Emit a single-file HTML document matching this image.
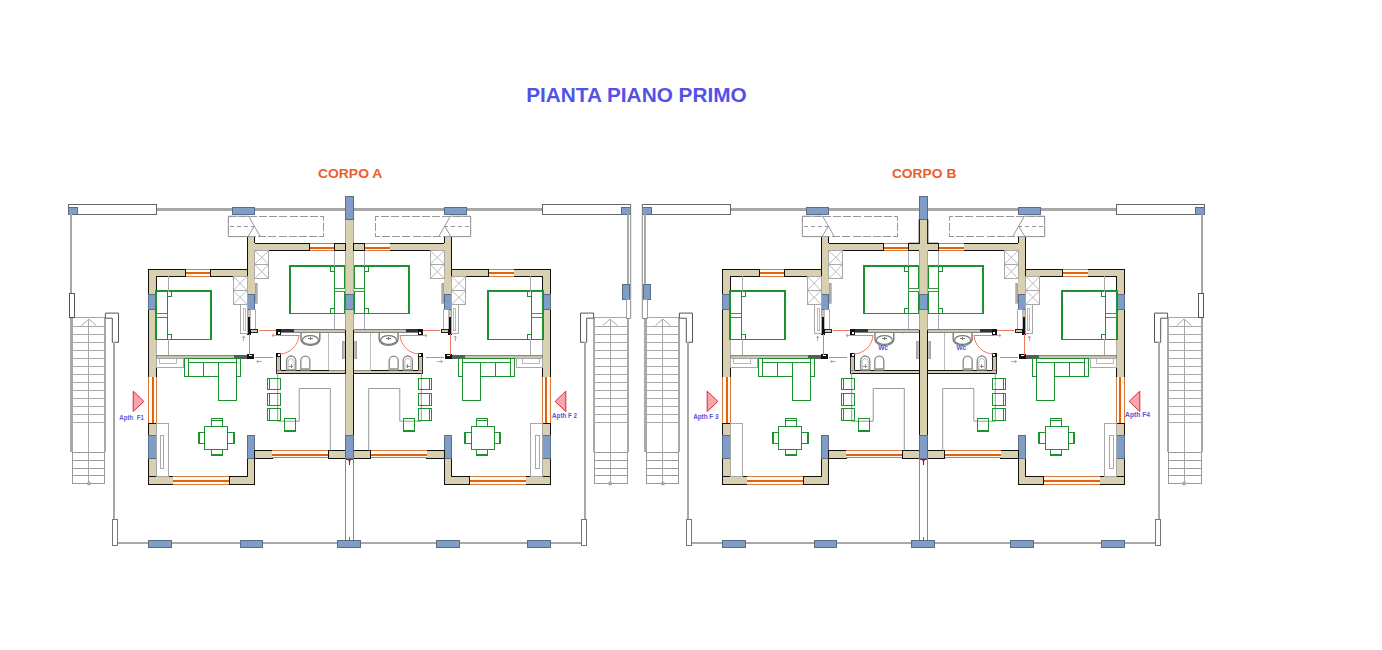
<!DOCTYPE html><html><head><meta charset="utf-8"><style>html,body{margin:0;padding:0;background:#fff;overflow:hidden}svg{display:block}</style></head><body><svg width="1382" height="650" viewBox="0 0 1382 650">
<rect width="1382" height="650" fill="#fff"/>
<defs><g id="hf"><line x1="156.6" y1="209.5" x2="345.5" y2="209.5" stroke="#a8a8a8" stroke-width="2.2"  shape-rendering="crispEdges"/>
<rect x="68.9" y="204.7" width="87.7" height="9.7" fill="#fff" stroke="#666" stroke-width="1"  shape-rendering="crispEdges"/>
<rect x="68.9" y="207.3" width="8.9" height="7.1" fill="#7f9dc6" stroke="#5b6c86" stroke-width="1"  shape-rendering="crispEdges"/>
<rect x="232.2" y="207.0" width="22.6" height="7.7" fill="#7f9dc6" stroke="#5b6c86" stroke-width="1"  shape-rendering="crispEdges"/>
<line x1="71.3" y1="317.7" x2="71.3" y2="452.0" stroke="#a8a8a8" stroke-width="2.4"  shape-rendering="crispEdges"/>
<line x1="104.8" y1="317.7" x2="104.8" y2="452.0" stroke="#a8a8a8" stroke-width="2.4"  shape-rendering="crispEdges"/>
<rect x="72.0" y="452.0" width="32.3" height="31.6" fill="none" stroke="#999" stroke-width="1"  shape-rendering="crispEdges"/>
<line x1="71.3" y1="317.7" x2="104.8" y2="317.7" stroke="#a8a8a8" stroke-width="1"  shape-rendering="crispEdges"/>
<line x1="71.3" y1="326.2" x2="104.8" y2="326.2" stroke="#a8a8a8" stroke-width="1"  shape-rendering="crispEdges"/>
<line x1="71.3" y1="334.2" x2="104.8" y2="334.2" stroke="#a8a8a8" stroke-width="1"  shape-rendering="crispEdges"/>
<line x1="71.3" y1="342.2" x2="104.8" y2="342.2" stroke="#a8a8a8" stroke-width="1"  shape-rendering="crispEdges"/>
<line x1="71.3" y1="350.3" x2="104.8" y2="350.3" stroke="#a8a8a8" stroke-width="1"  shape-rendering="crispEdges"/>
<line x1="71.3" y1="358.3" x2="104.8" y2="358.3" stroke="#a8a8a8" stroke-width="1"  shape-rendering="crispEdges"/>
<line x1="71.3" y1="366.3" x2="104.8" y2="366.3" stroke="#a8a8a8" stroke-width="1"  shape-rendering="crispEdges"/>
<line x1="71.3" y1="374.3" x2="104.8" y2="374.3" stroke="#a8a8a8" stroke-width="1"  shape-rendering="crispEdges"/>
<line x1="71.3" y1="382.3" x2="104.8" y2="382.3" stroke="#a8a8a8" stroke-width="1"  shape-rendering="crispEdges"/>
<line x1="71.3" y1="390.4" x2="104.8" y2="390.4" stroke="#a8a8a8" stroke-width="1"  shape-rendering="crispEdges"/>
<line x1="71.3" y1="398.4" x2="104.8" y2="398.4" stroke="#a8a8a8" stroke-width="1"  shape-rendering="crispEdges"/>
<line x1="71.3" y1="406.4" x2="104.8" y2="406.4" stroke="#a8a8a8" stroke-width="1"  shape-rendering="crispEdges"/>
<line x1="71.3" y1="414.4" x2="104.8" y2="414.4" stroke="#a8a8a8" stroke-width="1"  shape-rendering="crispEdges"/>
<line x1="71.3" y1="422.4" x2="104.8" y2="422.4" stroke="#a8a8a8" stroke-width="1"  shape-rendering="crispEdges"/>
<line x1="72.0" y1="452.0" x2="104.3" y2="452.0" stroke="#999" stroke-width="1"  shape-rendering="crispEdges"/>
<line x1="72.0" y1="460.0" x2="104.3" y2="460.0" stroke="#999" stroke-width="1"  shape-rendering="crispEdges"/>
<line x1="72.0" y1="468.0" x2="104.3" y2="468.0" stroke="#999" stroke-width="1"  shape-rendering="crispEdges"/>
<line x1="72.0" y1="475.8" x2="104.3" y2="475.8" stroke="#999" stroke-width="1"  shape-rendering="crispEdges"/>
<line x1="88.9" y1="320.0" x2="88.9" y2="483.6" stroke="#a8a8a8" stroke-width="1"  shape-rendering="crispEdges"/>
<polyline points="81.5,325.5 88.9,319.0 96.3,325.5" fill="none" stroke="#a8a8a8" stroke-width="1" />
<circle cx="88.9" cy="483.4" r="2" fill="#a8a8a8"/>
<polygon points="105.4,313.1 118.5,313.1 118.5,342.3 112.3,342.3 112.3,318.2 105.4,318.2" fill="#fff" stroke="#555" stroke-width="1" />
<line x1="113.9" y1="342.3" x2="113.9" y2="519.0" stroke="#a8a8a8" stroke-width="2"  shape-rendering="crispEdges"/>
<rect x="112.4" y="519.0" width="5.4" height="26.0" fill="#fff" stroke="#777" stroke-width="1"  shape-rendering="crispEdges"/>
<line x1="117.8" y1="543.0" x2="345.5" y2="543.0" stroke="#a8a8a8" stroke-width="2.2"  shape-rendering="crispEdges"/>
<rect x="148.4" y="540.3" width="23.2" height="7.3" fill="#7f9dc6" stroke="#5b6c86" stroke-width="1"  shape-rendering="crispEdges"/>
<rect x="240.0" y="540.3" width="22.6" height="7.3" fill="#7f9dc6" stroke="#5b6c86" stroke-width="1"  shape-rendering="crispEdges"/>
<rect x="228.3" y="216.2" width="95.4" height="20.4" fill="none" stroke="#999" stroke-width="1" stroke-dasharray="8,2.2" shape-rendering="crispEdges"/>
<polyline points="249.0,216.2 228.3,216.2 228.3,236.6 249.0,236.6" fill="none" stroke="#999" stroke-width="1" />
<line x1="230.0" y1="226.4" x2="254.0" y2="226.4" stroke="#999" stroke-width="1" stroke-dasharray="4,3" shape-rendering="crispEdges"/>
<line x1="248.6" y1="216.2" x2="260.3" y2="236.6" stroke="#999" stroke-width="1" />
<line x1="248.0" y1="236.6" x2="254.2" y2="226.4" stroke="#999" stroke-width="1" />
<rect x="247.2" y="243.4" width="62.3" height="7.1" fill="#d9d0b0" stroke="#111" stroke-width="1"  shape-rendering="crispEdges"/>
<rect x="309.5" y="243.4" width="24.9" height="7.1" fill="#fffaf2" stroke="none" stroke-width="1"  shape-rendering="crispEdges"/><line x1="309.5" y1="243.5" x2="334.4" y2="243.5" stroke="#d27a42" stroke-width="1"  shape-rendering="crispEdges"/><line x1="309.5" y1="248.0" x2="334.4" y2="248.0" stroke="#e4620e" stroke-width="1.7"  shape-rendering="crispEdges"/><line x1="309.5" y1="250.5" x2="334.4" y2="250.5" stroke="#d27a42" stroke-width="1"  shape-rendering="crispEdges"/>
<rect x="334.4" y="243.4" width="11.1" height="7.1" fill="#d9d0b0" stroke="#111" stroke-width="1"  shape-rendering="crispEdges"/>
<rect x="247.2" y="236.6" width="7.4" height="57.6" fill="#d9d0b0" stroke="none" stroke-width="1"  shape-rendering="crispEdges"/>
<line x1="247.2" y1="236.6" x2="247.2" y2="294.2" stroke="#111" stroke-width="1.2"  shape-rendering="crispEdges"/>
<line x1="254.6" y1="236.6" x2="254.6" y2="243.4" stroke="#111" stroke-width="1.2"  shape-rendering="crispEdges"/>
<rect x="247.2" y="294.2" width="7.4" height="15.4" fill="#7f9dc6" stroke="#5b6c86" stroke-width="1"  shape-rendering="crispEdges"/>
<rect x="148.4" y="269.2" width="37.1" height="7.2" fill="#d9d0b0" stroke="#111" stroke-width="1"  shape-rendering="crispEdges"/>
<rect x="185.5" y="269.2" width="25.3" height="7.2" fill="#fffaf2" stroke="none" stroke-width="1"  shape-rendering="crispEdges"/><line x1="185.5" y1="269.5" x2="210.8" y2="269.5" stroke="#d27a42" stroke-width="1"  shape-rendering="crispEdges"/><line x1="185.5" y1="273.0" x2="210.8" y2="273.0" stroke="#e4620e" stroke-width="1.7"  shape-rendering="crispEdges"/><line x1="185.5" y1="276.5" x2="210.8" y2="276.5" stroke="#d27a42" stroke-width="1"  shape-rendering="crispEdges"/>
<rect x="210.8" y="269.2" width="36.4" height="7.2" fill="#d9d0b0" stroke="#111" stroke-width="1"  shape-rendering="crispEdges"/>
<rect x="148.4" y="269.2" width="8.0" height="108.0" fill="#d9d0b0" stroke="none" stroke-width="1"  shape-rendering="crispEdges"/>
<line x1="148.4" y1="269.2" x2="148.4" y2="377.2" stroke="#111" stroke-width="1"  shape-rendering="crispEdges"/><line x1="147.9" y1="269.2" x2="157.0" y2="269.2" stroke="#111" stroke-width="1"  shape-rendering="crispEdges"/>
<line x1="156.4" y1="276.4" x2="156.4" y2="294.2" stroke="#111" stroke-width="1"  shape-rendering="crispEdges"/><line x1="156.4" y1="339.0" x2="156.4" y2="355.4" stroke="#999" stroke-width="0.8"  shape-rendering="crispEdges"/><line x1="156.4" y1="367.4" x2="156.4" y2="377.2" stroke="#111" stroke-width="1"  shape-rendering="crispEdges"/>
<line x1="148.4" y1="377.2" x2="156.4" y2="377.2" stroke="#111" stroke-width="1"  shape-rendering="crispEdges"/>
<rect x="148.4" y="294.2" width="8.0" height="15.0" fill="#7f9dc6" stroke="#5b6c86" stroke-width="1"  shape-rendering="crispEdges"/>
<rect x="148.4" y="377.2" width="8.0" height="46.3" fill="#fffaf2" stroke="none" stroke-width="1"  shape-rendering="crispEdges"/><line x1="148.5" y1="377.2" x2="148.5" y2="423.5" stroke="#d27a42" stroke-width="1"  shape-rendering="crispEdges"/><line x1="153.0" y1="377.2" x2="153.0" y2="423.5" stroke="#e4620e" stroke-width="1.7"  shape-rendering="crispEdges"/><line x1="156.5" y1="377.2" x2="156.5" y2="423.5" stroke="#d27a42" stroke-width="1"  shape-rendering="crispEdges"/>
<rect x="148.4" y="423.5" width="8.0" height="60.9" fill="#d9d0b0" stroke="#111" stroke-width="1"  shape-rendering="crispEdges"/>
<rect x="148.4" y="435.0" width="8.0" height="23.6" fill="#7f9dc6" stroke="#5b6c86" stroke-width="1"  shape-rendering="crispEdges"/>
<rect x="148.4" y="476.6" width="25.0" height="7.8" fill="#d9d0b0" stroke="#111" stroke-width="1"  shape-rendering="crispEdges"/>
<rect x="173.4" y="476.6" width="55.8" height="7.8" fill="#fffaf2" stroke="none" stroke-width="1"  shape-rendering="crispEdges"/><line x1="173.4" y1="476.5" x2="229.2" y2="476.5" stroke="#d27a42" stroke-width="1"  shape-rendering="crispEdges"/><line x1="173.4" y1="481.0" x2="229.2" y2="481.0" stroke="#e4620e" stroke-width="1.7"  shape-rendering="crispEdges"/><line x1="173.4" y1="484.5" x2="229.2" y2="484.5" stroke="#d27a42" stroke-width="1"  shape-rendering="crispEdges"/>
<rect x="229.2" y="476.6" width="25.4" height="7.8" fill="#d9d0b0" stroke="#111" stroke-width="1"  shape-rendering="crispEdges"/>
<rect x="247.6" y="435.0" width="7.0" height="49.4" fill="#d9d0b0" stroke="#111" stroke-width="1"  shape-rendering="crispEdges"/>
<rect x="230.0" y="477.2" width="24.0" height="6.6" fill="#d9d0b0" stroke="none" stroke-width="1"  shape-rendering="crispEdges"/>
<rect x="247.6" y="435.0" width="7.0" height="23.0" fill="#7f9dc6" stroke="#5b6c86" stroke-width="1"  shape-rendering="crispEdges"/>
<rect x="254.6" y="450.4" width="17.8" height="7.6" fill="#d9d0b0" stroke="#111" stroke-width="1"  shape-rendering="crispEdges"/>
<rect x="272.4" y="450.4" width="56.2" height="7.6" fill="#fffaf2" stroke="none" stroke-width="1"  shape-rendering="crispEdges"/><line x1="272.4" y1="450.5" x2="328.6" y2="450.5" stroke="#d27a42" stroke-width="1"  shape-rendering="crispEdges"/><line x1="272.4" y1="455.0" x2="328.6" y2="455.0" stroke="#e4620e" stroke-width="1.7"  shape-rendering="crispEdges"/><line x1="272.4" y1="457.5" x2="328.6" y2="457.5" stroke="#d27a42" stroke-width="1"  shape-rendering="crispEdges"/>
<rect x="328.6" y="450.4" width="17.0" height="7.6" fill="#d9d0b0" stroke="#111" stroke-width="1"  shape-rendering="crispEdges"/>
<rect x="156.4" y="355.4" width="97.4" height="3.1" fill="#c9c3ad" stroke="#777" stroke-width="0.8"  shape-rendering="crispEdges"/>
<rect x="234.2" y="355.2" width="13.3" height="3.5" fill="#5a5a5a" stroke="none" stroke-width="1"  shape-rendering="crispEdges"/>
<rect x="247.3" y="309.6" width="2.7" height="7.4" fill="#c8c2aa" stroke="none" stroke-width="1"  shape-rendering="crispEdges"/>
<rect x="247.6" y="316.5" width="2.7" height="16.5" fill="#111" stroke="none" stroke-width="1"  shape-rendering="crispEdges"/>
<rect x="250.5" y="309.6" width="4.8" height="19.7" fill="#fff" stroke="#aaa" stroke-width="0.8"  shape-rendering="crispEdges"/>
<rect x="250.3" y="329.3" width="7.2" height="3.2" fill="#d0c9b0" stroke="#111" stroke-width="0.9"  shape-rendering="crispEdges"/>
<rect x="247.3" y="329.0" width="3.7" height="6.0" fill="#111" stroke="none" stroke-width="1"  shape-rendering="crispEdges"/>
<rect x="247.2" y="353.9" width="6.7" height="4.8" fill="#111" stroke="none" stroke-width="1"  shape-rendering="crispEdges"/>
<rect x="249.3" y="354.6" width="2.3" height="1.6" fill="#fff" stroke="none" stroke-width="1"  shape-rendering="crispEdges"/>
<rect x="276.2" y="329.2" width="69.3" height="3.2" fill="#ccc6b0" stroke="#666" stroke-width="0.8"  shape-rendering="crispEdges"/>
<rect x="280.5" y="329.4" width="13.0" height="2.8" fill="#333" stroke="none" stroke-width="1"  shape-rendering="crispEdges"/>
<rect x="276.8" y="353.0" width="4.0" height="20.2" fill="#ccc6b0" stroke="#111" stroke-width="0.9"  shape-rendering="crispEdges"/>
<rect x="277.0" y="370.2" width="68.5" height="3.0" fill="#d4ccb2" stroke="none" stroke-width="1"  shape-rendering="crispEdges"/>
<line x1="277.0" y1="370.5" x2="345.5" y2="370.5" stroke="#777" stroke-width="0.8"  shape-rendering="crispEdges"/><line x1="280.8" y1="370.4" x2="328.5" y2="370.4" stroke="#111" stroke-width="1.1"  shape-rendering="crispEdges"/><line x1="276.8" y1="373.2" x2="345.5" y2="373.2" stroke="#111" stroke-width="1.4"  shape-rendering="crispEdges"/>
<rect x="276.2" y="329.2" width="4.8" height="6.0" fill="#111" stroke="none" stroke-width="1"  shape-rendering="crispEdges"/>
<rect x="277.6" y="332.2" width="2.2" height="2.0" fill="#fff" stroke="none" stroke-width="1"  shape-rendering="crispEdges"/>
<rect x="276.2" y="352.6" width="4.8" height="4.0" fill="#111" stroke="none" stroke-width="1"  shape-rendering="crispEdges"/>
<rect x="277.6" y="353.6" width="2.2" height="2.0" fill="#fff" stroke="none" stroke-width="1"  shape-rendering="crispEdges"/>
<path d="M301,332.6 L301,339.8 A9.4,5.6 0 0 0 319.8,339.8 L319.8,332.6" fill="none" stroke="#7a7a7a" stroke-width="1.4"/>
<ellipse cx="310.4" cy="340" rx="8" ry="4.4" fill="none" stroke="#7a7a7a" stroke-width="1.2"/>
<line x1="308.3" y1="338.5" x2="312.6" y2="338.5" stroke="#777" stroke-width="1.1"  shape-rendering="crispEdges"/><line x1="310.4" y1="337.0" x2="310.4" y2="340.0" stroke="#777" stroke-width="1.1"  shape-rendering="crispEdges"/>
<path d="M286.6,370 L286.6,360.6 A4.6,4.6 0 0 1 295.8,360.6 L295.8,370Z" fill="none" stroke="#888" stroke-width="1.3"/>
<path d="M288.2,369 L288.2,361.5 A3,3 0 0 1 294.2,361.5 L294.2,369" fill="none" stroke="#aaa" stroke-width="0.8"/>
<line x1="289.0" y1="366.0" x2="293.4" y2="366.0" stroke="#888" stroke-width="1"  shape-rendering="crispEdges"/><line x1="291.2" y1="363.8" x2="291.2" y2="368.2" stroke="#888" stroke-width="1"  shape-rendering="crispEdges"/>
<path d="M300.8,370 L300.8,360.6 A4.5,4.5 0 0 1 309.8,360.6 L309.8,370Z" fill="none" stroke="#888" stroke-width="1.3"/>
<line x1="301.0" y1="368.6" x2="309.6" y2="368.6" stroke="#aaa" stroke-width="1"  shape-rendering="crispEdges"/>
<line x1="328.5" y1="333.0" x2="328.5" y2="370.0" stroke="#bbb" stroke-width="1"  shape-rendering="crispEdges"/>
<rect x="342.2" y="341.0" width="2.2" height="17.5" fill="#b4b4b4" stroke="#999" stroke-width="0.6"  shape-rendering="crispEdges"/>
<path d="M299,335 A20,20 0 0 1 279.5,354" fill="none" stroke="#ec7a60" stroke-width="1"/>
<line x1="279.5" y1="335.0" x2="299.0" y2="335.0" stroke="#ec7a60" stroke-width="1"  shape-rendering="crispEdges"/>
<line x1="259.0" y1="330.4" x2="275.6" y2="330.4" stroke="#ec7a60" stroke-width="1"  shape-rendering="crispEdges"/>
<line x1="254.7" y1="357.2" x2="273.2" y2="357.2" stroke="#ec7a60" stroke-width="1"  shape-rendering="crispEdges"/>
<line x1="249.0" y1="334.0" x2="249.0" y2="354.5" stroke="#ec7a60" stroke-width="1"  shape-rendering="crispEdges"/>
<line x1="256.5" y1="361.5" x2="262.0" y2="361.5" stroke="#ec7a60" stroke-width="0.8"  shape-rendering="crispEdges"/><polyline points="258.5,360.0 256.5,361.5 258.5,363.0" fill="none" stroke="#ec7a60" stroke-width="0.8" />
<line x1="272.0" y1="335.5" x2="281.0" y2="335.5" stroke="#ec7a60" stroke-width="0.8"  shape-rendering="crispEdges"/><polyline points="274.0,334.0 272.0,335.5 274.0,337.0" fill="none" stroke="#ec7a60" stroke-width="0.8" />
<line x1="243.8" y1="336.0" x2="243.8" y2="341.0" stroke="#ec7a60" stroke-width="0.8"  shape-rendering="crispEdges"/><polyline points="242.3,338.0 243.8,336.0 245.3,338.0" fill="none" stroke="#ec7a60" stroke-width="0.8" />
<rect x="156.3" y="291.3" width="55.1" height="48.2" fill="none" stroke="#1d9130" stroke-width="1.8"  shape-rendering="crispEdges"/><line x1="167.5" y1="295.8" x2="167.5" y2="335.0" stroke="#1d9130" stroke-width="1"  shape-rendering="crispEdges"/><rect x="156.3" y="313.8" width="11.2" height="3.2" fill="#fff" stroke="#1d9130" stroke-width="0.9"  shape-rendering="crispEdges"/><rect x="167.5" y="291.8" width="4.0" height="4.3" fill="#fff" stroke="#1d9130" stroke-width="1"  shape-rendering="crispEdges"/><rect x="167.5" y="334.7" width="4.0" height="4.3" fill="#fff" stroke="#1d9130" stroke-width="1"  shape-rendering="crispEdges"/>
<rect x="290.3" y="266.2" width="54.8" height="47.3" fill="none" stroke="#1d9130" stroke-width="1.8"  shape-rendering="crispEdges"/><line x1="334.4" y1="270.7" x2="334.4" y2="309.0" stroke="#1d9130" stroke-width="1"  shape-rendering="crispEdges"/><rect x="334.4" y="288.2" width="10.7" height="3.2" fill="#fff" stroke="#1d9130" stroke-width="0.9"  shape-rendering="crispEdges"/><rect x="330.4" y="266.7" width="4.0" height="4.3" fill="#fff" stroke="#1d9130" stroke-width="1"  shape-rendering="crispEdges"/><rect x="330.4" y="308.7" width="4.0" height="4.3" fill="#fff" stroke="#1d9130" stroke-width="1"  shape-rendering="crispEdges"/>
<line x1="168.6" y1="276.4" x2="168.6" y2="291.8" stroke="#a8a8a8" stroke-width="1"  shape-rendering="crispEdges"/>
<line x1="168.6" y1="339.1" x2="168.6" y2="355.4" stroke="#a8a8a8" stroke-width="1"  shape-rendering="crispEdges"/>
<line x1="334.4" y1="250.5" x2="334.4" y2="266.2" stroke="#aab" stroke-width="1"  shape-rendering="crispEdges"/>
<line x1="334.4" y1="313.5" x2="334.4" y2="329.2" stroke="#aab" stroke-width="1"  shape-rendering="crispEdges"/>
<rect x="233.1" y="276.3" width="14.1" height="14.2" fill="none" stroke="#a8a8a8" stroke-width="1"  shape-rendering="crispEdges"/><line x1="233.1" y1="276.3" x2="247.2" y2="290.5" stroke="#a8a8a8" stroke-width="0.8" /><line x1="247.2" y1="276.3" x2="233.1" y2="290.5" stroke="#a8a8a8" stroke-width="0.8" /><rect x="233.1" y="290.5" width="14.1" height="13.8" fill="none" stroke="#a8a8a8" stroke-width="1"  shape-rendering="crispEdges"/><line x1="233.1" y1="290.5" x2="247.2" y2="304.3" stroke="#a8a8a8" stroke-width="0.8" /><line x1="247.2" y1="290.5" x2="233.1" y2="304.3" stroke="#a8a8a8" stroke-width="0.8" />
<rect x="254.6" y="250.5" width="14.2" height="13.8" fill="none" stroke="#a8a8a8" stroke-width="1"  shape-rendering="crispEdges"/><line x1="254.6" y1="250.5" x2="268.8" y2="264.3" stroke="#a8a8a8" stroke-width="0.8" /><line x1="268.8" y1="250.5" x2="254.6" y2="264.3" stroke="#a8a8a8" stroke-width="0.8" /><rect x="254.6" y="264.3" width="14.2" height="14.5" fill="none" stroke="#a8a8a8" stroke-width="1"  shape-rendering="crispEdges"/><line x1="254.6" y1="264.3" x2="268.8" y2="278.8" stroke="#a8a8a8" stroke-width="0.8" /><line x1="268.8" y1="264.3" x2="254.6" y2="278.8" stroke="#a8a8a8" stroke-width="0.8" />
<rect x="240.3" y="304.3" width="6.8" height="29.5" fill="#fff" stroke="#a8a8a8" stroke-width="1"  shape-rendering="crispEdges"/><rect x="243.2" y="308.3" width="2.0" height="21.7" fill="none" stroke="#a8a8a8" stroke-width="0.8"  shape-rendering="crispEdges"/>
<rect x="255.2" y="283.0" width="2.2" height="20.4" fill="#b0b0b0" stroke="#999" stroke-width="0.6"  shape-rendering="crispEdges"/>
<line x1="255.6" y1="309.6" x2="255.6" y2="329.0" stroke="#a8a8a8" stroke-width="0.8"  shape-rendering="crispEdges"/>
<rect x="156.4" y="358.5" width="26.6" height="8.9" fill="none" stroke="#a8a8a8" stroke-width="1"  shape-rendering="crispEdges"/><rect x="159.5" y="358.8" width="17.0" height="4.7" fill="none" stroke="#a8a8a8" stroke-width="0.8"  shape-rendering="crispEdges"/>
<rect x="184.3" y="358.5" width="56.4" height="18.1" fill="none" stroke="#1d9130" stroke-width="1"  shape-rendering="crispEdges"/>
<line x1="188.8" y1="362.5" x2="236.6" y2="362.5" stroke="#1d9130" stroke-width="1"  shape-rendering="crispEdges"/>
<line x1="188.8" y1="358.5" x2="188.8" y2="376.6" stroke="#1d9130" stroke-width="1"  shape-rendering="crispEdges"/><line x1="236.6" y1="358.5" x2="236.6" y2="376.6" stroke="#1d9130" stroke-width="1"  shape-rendering="crispEdges"/>
<line x1="203.4" y1="362.5" x2="203.4" y2="376.6" stroke="#1d9130" stroke-width="1"  shape-rendering="crispEdges"/>
<rect x="218.4" y="362.5" width="18.2" height="37.9" fill="#fff" stroke="#1d9130" stroke-width="1"  shape-rendering="crispEdges"/>
<rect x="204.2" y="426.3" width="23.1" height="23.4" fill="none" stroke="#1d9130" stroke-width="1.2"  shape-rendering="crispEdges"/>
<rect x="211.3" y="418.3" width="11.4" height="8.0" fill="none" stroke="#1d9130" stroke-width="1"  shape-rendering="crispEdges"/><line x1="211.3" y1="420.2" x2="222.7" y2="420.2" stroke="#1d9130" stroke-width="1"  shape-rendering="crispEdges"/>
<rect x="211.3" y="449.7" width="11.4" height="5.5" fill="none" stroke="#1d9130" stroke-width="1"  shape-rendering="crispEdges"/><line x1="211.3" y1="454.3" x2="222.7" y2="454.3" stroke="#1d9130" stroke-width="1.6"  shape-rendering="crispEdges"/>
<rect x="198.2" y="432.7" width="6.0" height="10.7" fill="none" stroke="#1d9130" stroke-width="1"  shape-rendering="crispEdges"/><line x1="199.4" y1="432.7" x2="199.4" y2="443.4" stroke="#1d9130" stroke-width="1.5"  shape-rendering="crispEdges"/>
<rect x="227.3" y="432.7" width="7.4" height="10.7" fill="none" stroke="#1d9130" stroke-width="1"  shape-rendering="crispEdges"/><line x1="233.6" y1="432.7" x2="233.6" y2="443.4" stroke="#1d9130" stroke-width="1.5"  shape-rendering="crispEdges"/>
<rect x="156.3" y="423.5" width="12.3" height="53.1" fill="none" stroke="#a8a8a8" stroke-width="1"  shape-rendering="crispEdges"/><rect x="160.0" y="435.0" width="3.1" height="33.2" fill="none" stroke="#a8a8a8" stroke-width="1"  shape-rendering="crispEdges"/>
<polyline points="277.7,373.2 277.7,421.2 299.2,421.2 299.2,388.5 330.3,388.5 330.3,450.4" fill="none" stroke="#999" stroke-width="1" />
<rect x="267.2" y="378.5" width="13.3" height="10.7" fill="none" stroke="#1d9130" stroke-width="1"  shape-rendering="crispEdges"/><line x1="269.7" y1="378.5" x2="269.7" y2="389.2" stroke="#1d9130" stroke-width="1"  shape-rendering="crispEdges"/>
<rect x="267.2" y="393.5" width="13.3" height="11.9" fill="none" stroke="#1d9130" stroke-width="1"  shape-rendering="crispEdges"/><line x1="269.7" y1="393.5" x2="269.7" y2="405.4" stroke="#1d9130" stroke-width="1"  shape-rendering="crispEdges"/>
<rect x="267.2" y="408.5" width="13.3" height="11.8" fill="none" stroke="#1d9130" stroke-width="1"  shape-rendering="crispEdges"/><line x1="269.7" y1="408.5" x2="269.7" y2="420.3" stroke="#1d9130" stroke-width="1"  shape-rendering="crispEdges"/>
<rect x="284.2" y="418.2" width="11.5" height="13.3" fill="none" stroke="#1d9130" stroke-width="1"  shape-rendering="crispEdges"/><line x1="284.2" y1="430.8" x2="295.7" y2="430.8" stroke="#1d9130" stroke-width="1.6"  shape-rendering="crispEdges"/></g></defs>
<g><use href="#hf"/>
<use href="#hf" transform="translate(699,0) scale(-1,1)"/>
<line x1="71.3" y1="214.4" x2="71.3" y2="293.5" stroke="#a8a8a8" stroke-width="2"  shape-rendering="crispEdges"/>
<rect x="69.7" y="293.5" width="4.9" height="23.9" fill="#fff" stroke="#555" stroke-width="1"  shape-rendering="crispEdges"/>
<g transform="translate(699,0) scale(-1,1)"><polyline points="68.3,204.4 68.3,318.0 71.6,318.0" fill="none" stroke="#888" stroke-width="1" /><line x1="71.4" y1="214.4" x2="71.4" y2="284.0" stroke="#a8a8a8" stroke-width="2"  shape-rendering="crispEdges"/><rect x="69.3" y="284.0" width="7.2" height="15.4" fill="#7f9dc6" stroke="#5b6c86" stroke-width="1"  shape-rendering="crispEdges"/><rect x="68.3" y="299.4" width="4.7" height="18.6" fill="#fff" stroke="#888" stroke-width="0.8"  shape-rendering="crispEdges"/></g>
<rect x="345.3" y="219.6" width="8.4" height="215.8" fill="#d9d0b0" stroke="#999" stroke-width="0.8"  shape-rendering="crispEdges"/>
<line x1="345.4" y1="330.2" x2="345.4" y2="373.6" stroke="#111" stroke-width="1.4"  shape-rendering="crispEdges"/><line x1="353.6" y1="330.2" x2="353.6" y2="435.4" stroke="#111" stroke-width="1.4"  shape-rendering="crispEdges"/>
<rect x="345.3" y="196.2" width="8.4" height="23.4" fill="#7f9dc6" stroke="#5b6c86" stroke-width="1"  shape-rendering="crispEdges"/>
<rect x="345.3" y="294.2" width="8.4" height="15.4" fill="#7f9dc6" stroke="#5b6c86" stroke-width="1"  shape-rendering="crispEdges"/>
<rect x="345.3" y="435.4" width="8.4" height="22.6" fill="#7f9dc6" stroke="#5b6c86" stroke-width="1"  shape-rendering="crispEdges"/>
<line x1="345.6" y1="458.0" x2="345.6" y2="540.3" stroke="#888" stroke-width="1"  shape-rendering="crispEdges"/><line x1="353.4" y1="458.0" x2="353.4" y2="540.3" stroke="#888" stroke-width="1"  shape-rendering="crispEdges"/>
<rect x="337.0" y="540.3" width="23.6" height="7.3" fill="#7f9dc6" stroke="#5b6c86" stroke-width="1"  shape-rendering="crispEdges"/>
<line x1="345.3" y1="243.4" x2="345.3" y2="250.5" stroke="#111" stroke-width="1.1"  shape-rendering="crispEdges"/><line x1="353.7" y1="243.4" x2="353.7" y2="250.5" stroke="#111" stroke-width="1.1"  shape-rendering="crispEdges"/>
<line x1="345.8" y1="459.6" x2="353.2" y2="459.6" stroke="#c81818" stroke-width="1.4"  shape-rendering="crispEdges"/>
<polygon points="347.4,459.0 351.6,459.0 349.5,462.5" fill="#d01010" stroke="none" stroke-width="0" />
<line x1="349.5" y1="461.0" x2="349.5" y2="464.6" stroke="#8a1010" stroke-width="1"  shape-rendering="crispEdges"/>
<line x1="349.5" y1="540.3" x2="349.5" y2="537.3" stroke="#d01010" stroke-width="0.8"  shape-rendering="crispEdges"/></g>
<g transform="translate(574,0)"><use href="#hf"/>
<use href="#hf" transform="translate(699,0) scale(-1,1)"/>
<polyline points="68.3,204.4 68.3,318.0 71.6,318.0" fill="none" stroke="#888" stroke-width="1" />
<line x1="71.4" y1="214.4" x2="71.4" y2="284.0" stroke="#a8a8a8" stroke-width="2"  shape-rendering="crispEdges"/>
<rect x="69.3" y="284.0" width="7.2" height="15.4" fill="#7f9dc6" stroke="#5b6c86" stroke-width="1"  shape-rendering="crispEdges"/>
<rect x="68.3" y="299.4" width="4.7" height="18.6" fill="#fff" stroke="#888" stroke-width="0.8"  shape-rendering="crispEdges"/>
<g transform="translate(699,0) scale(-1,1)"><line x1="71.3" y1="214.4" x2="71.3" y2="293.5" stroke="#a8a8a8" stroke-width="2"  shape-rendering="crispEdges"/><rect x="69.7" y="293.5" width="4.9" height="23.9" fill="#fff" stroke="#555" stroke-width="1"  shape-rendering="crispEdges"/></g>
<rect x="345.3" y="219.6" width="8.4" height="215.8" fill="#d9d0b0" stroke="#999" stroke-width="0.8"  shape-rendering="crispEdges"/>
<line x1="345.4" y1="330.2" x2="345.4" y2="435.4" stroke="#111" stroke-width="1.4"  shape-rendering="crispEdges"/><line x1="353.6" y1="330.2" x2="353.6" y2="435.4" stroke="#111" stroke-width="1.4"  shape-rendering="crispEdges"/>
<rect x="345.3" y="196.2" width="8.4" height="23.4" fill="#7f9dc6" stroke="#5b6c86" stroke-width="1"  shape-rendering="crispEdges"/>
<rect x="345.3" y="294.2" width="8.4" height="15.4" fill="#7f9dc6" stroke="#5b6c86" stroke-width="1"  shape-rendering="crispEdges"/>
<rect x="345.3" y="435.4" width="8.4" height="22.6" fill="#7f9dc6" stroke="#5b6c86" stroke-width="1"  shape-rendering="crispEdges"/>
<line x1="345.6" y1="458.0" x2="345.6" y2="540.3" stroke="#888" stroke-width="1"  shape-rendering="crispEdges"/><line x1="353.4" y1="458.0" x2="353.4" y2="540.3" stroke="#888" stroke-width="1"  shape-rendering="crispEdges"/>
<rect x="337.0" y="540.3" width="23.6" height="7.3" fill="#7f9dc6" stroke="#5b6c86" stroke-width="1"  shape-rendering="crispEdges"/>
<line x1="328.5" y1="370.4" x2="345.3" y2="370.4" stroke="#111" stroke-width="1.1"  shape-rendering="crispEdges"/><line x1="353.7" y1="370.4" x2="370.5" y2="370.4" stroke="#111" stroke-width="1.1"  shape-rendering="crispEdges"/>
<rect x="159.2" y="434.2" width="4.7" height="34.8" fill="#fff" stroke="none" stroke-width="1"  shape-rendering="crispEdges"/>
<line x1="328.5" y1="333.5" x2="328.5" y2="369.8" stroke="#fff" stroke-width="1.6"  shape-rendering="crispEdges"/>
<rect x="345.3" y="219.6" width="8.4" height="30.9" fill="#d9d0b0" stroke="none" stroke-width="1"  shape-rendering="crispEdges"/>
<rect x="334.9" y="243.9" width="29.2" height="6.1" fill="#d9d0b0" stroke="none" stroke-width="1"  shape-rendering="crispEdges"/>
<polyline points="334.4,243.4 345.3,243.4 345.3,219.6" fill="none" stroke="#111" stroke-width="1.2" />
<polyline points="364.6,243.4 353.7,243.4 353.7,219.6" fill="none" stroke="#111" stroke-width="1.2" />
<text x="304.2" y="349.9" font-family="Liberation Sans" font-weight="bold" font-size="6.5" fill="#4a5ae0">Wc</text>
<text x="382.4" y="349.9" font-family="Liberation Sans" font-weight="bold" font-size="6.5" fill="#4a5ae0">Wc</text>
<line x1="345.8" y1="459.6" x2="353.2" y2="459.6" stroke="#c81818" stroke-width="1.4"  shape-rendering="crispEdges"/>
<polygon points="347.4,459.0 351.6,459.0 349.5,462.5" fill="#d01010" stroke="none" stroke-width="0" />
<line x1="349.5" y1="461.0" x2="349.5" y2="464.6" stroke="#8a1010" stroke-width="1"  shape-rendering="crispEdges"/>
<line x1="349.5" y1="540.3" x2="349.5" y2="537.3" stroke="#d01010" stroke-width="0.8"  shape-rendering="crispEdges"/></g>
<text x="526.2" y="101.9" font-family="Liberation Sans" font-weight="bold" font-size="20.8" fill="#5252e8" textLength="220.5" lengthAdjust="spacingAndGlyphs">PIANTA PIANO PRIMO</text>
<text x="317.9" y="178" font-family="Liberation Sans" font-weight="bold" font-size="13.6" fill="#e8602a" textLength="64.5" lengthAdjust="spacingAndGlyphs">CORPO A</text>
<text x="891.9" y="178" font-family="Liberation Sans" font-weight="bold" font-size="13.6" fill="#e8602a" textLength="64.5" lengthAdjust="spacingAndGlyphs">CORPO B</text>
<polygon points="133.2,391.2 143.9,401.4 133.2,411.5" fill="#f8a6ac" stroke="#d42a3a" stroke-width="1" />
<polygon points="565.8,391.2 555.1,401.4 565.8,411.5" fill="#f8a6ac" stroke="#d42a3a" stroke-width="1" />
<polygon points="707.2,391.2 717.9,401.4 707.2,411.5" fill="#f8a6ac" stroke="#d42a3a" stroke-width="1" />
<polygon points="1139.8,391.2 1129.1,401.4 1139.8,411.5" fill="#f8a6ac" stroke="#d42a3a" stroke-width="1" />
<text x="119.3" y="419.5" font-family="Liberation Sans" font-weight="bold" font-size="6.6" fill="#5a60da" textLength="24.6" lengthAdjust="spacingAndGlyphs" xml:space="preserve">Apth  F1</text>
<text x="552.1" y="417.6" font-family="Liberation Sans" font-weight="bold" font-size="6.6" fill="#4f55d8" textLength="24.9" lengthAdjust="spacingAndGlyphs" xml:space="preserve">Apth F 2</text>
<text x="693.2" y="418.5" font-family="Liberation Sans" font-weight="bold" font-size="6.6" fill="#4f55d8" textLength="25.3" lengthAdjust="spacingAndGlyphs" xml:space="preserve">Apth F 3</text>
<text x="1125.1" y="417.3" font-family="Liberation Sans" font-weight="bold" font-size="6.6" fill="#4f55d8" textLength="24.9" lengthAdjust="spacingAndGlyphs" xml:space="preserve">Apth F4</text>
</svg></body></html>
